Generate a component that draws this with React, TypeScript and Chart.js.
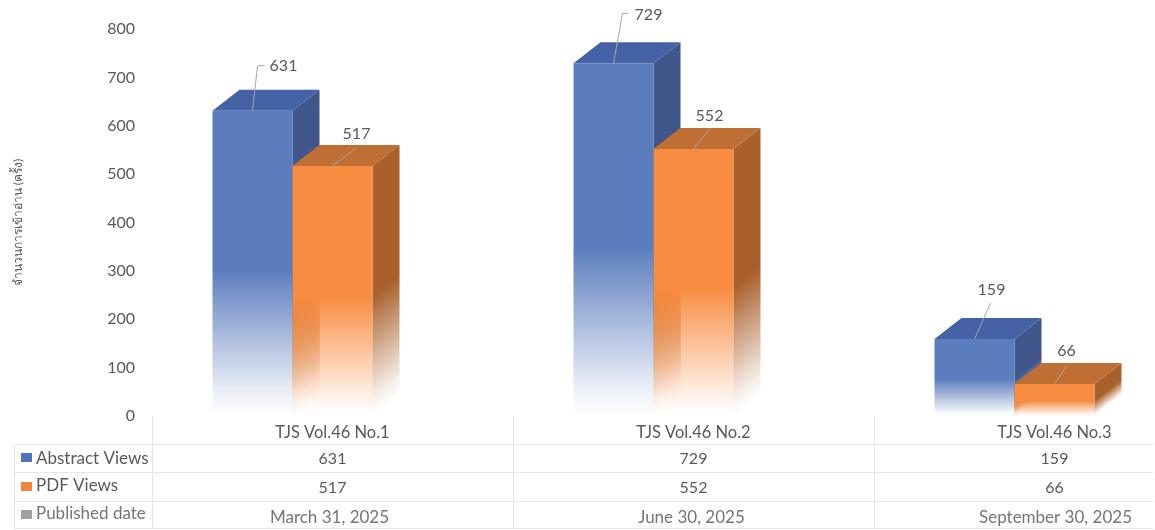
import React, { useEffect, useRef } from "react";
import { Chart, registerables } from "chart.js";

Chart.register(...registerables);

const categories = ["TJS Vol.46 No.1", "TJS Vol.46 No.2", "TJS Vol.46 No.3"];
const abstractViews = [631, 729, 159];
const pdfViews = [517, 552, 66];
const publishedDates = ["March 31, 2025", "June 30, 2025", "September 30, 2025"];
const seriesNames = ["Abstract Views", "PDF Views", "Published date"];
const yTitle = "จำนวนการเข้าอ่าน (ครั้ง)";

const FONT = 'Lato, "Noto Sans", sans-serif';
const TEXT = "#595959";
const GRID = "#e6e6e6";
const SHIFT = -40;
const DX = 27;
const DY = 21;

const palette = [
  { front: [91, 125, 190], side: [65, 86, 139], top: [68, 98, 165] },
  { front: [248, 140, 64], side: [169, 96, 43], top: [192, 111, 52] },
];
const swatches = ["#4f74ba", "#f3853a", "#a0a0a0"];

// offsets of each data label from its bar's top centre: [elbowX, elbowY, hookX, labelX, labelY]
const leaders = [
  [[5, -45, 12, 31, -45], [9, -50, 15, 35, -49], [16, -36, 16, 17, -49]],
  [[24, -18, 24, 24, -32], [17, -21, 17, 16, -33], [12, -18, 12, 12, -33]],
];

const rowLines = [444, 472, 501, 528];
const rowTextY = [459, 488, 518];
const rowNameY = [459, 486, 514];
const swatchY = [453, 482, 510];
const dateNudge = [-3, -2, 1];

const rgba = (c: number[], a: number) => `rgba(${c[0]},${c[1]},${c[2]},${a})`;

function fade(ctx: CanvasRenderingContext2D, top: number, base: number, c: number[]) {
  const g = ctx.createLinearGradient(0, top, 0, base);
  g.addColorStop(0, rgba(c, 1));
  g.addColorStop(0.52, rgba(c, 1));
  g.addColorStop(0.93, rgba(c, 0.1));
  g.addColorStop(1, rgba(c, 0));
  return g;
}

function whiteFade(ctx: CanvasRenderingContext2D, top: number, base: number, c: number[]) {
  const g = ctx.createLinearGradient(0, top, 0, base);
  g.addColorStop(0, rgba(c, 1));
  g.addColorStop(0.52, rgba(c, 1));
  g.addColorStop(0.93, "rgb(250,244,240)");
  g.addColorStop(1, "rgb(255,255,255)");
  return g;
}

function skewFace(ctx: CanvasRenderingContext2D, x: number, top: number, base: number, fill: (t: number, b: number) => CanvasGradient) {
  ctx.save();
  ctx.translate(x, 0);
  ctx.transform(1, -DY / DX, 0, 1, 0, 0);
  ctx.fillStyle = fill(top, base);
  ctx.fillRect(0, top, DX, base - top);
  ctx.restore();
}

const boxPlugin = {
  id: "box3d",
  beforeDatasetsDraw(chart: any) {
    const ctx = chart.ctx;
    ctx.save();
    ctx.translate(SHIFT, 0);
    [0, 1].forEach((d) => {
      const c = palette[d];
      chart.getDatasetMeta(d).data.forEach((bar: any) => {
        const left = bar.x - bar.width / 2;
        const right = bar.x + bar.width / 2;
        const top = bar.y;
        const base = bar.base;
        if (d === 1) {
          // inner wall seen through the fading front
          skewFace(ctx, left, top, base, (t, b) => whiteFade(ctx, t, b, c.side));
        }
        // right face
        skewFace(ctx, right, top, base, (t, b) => fade(ctx, t, b, c.side));
        // top face
        ctx.fillStyle = rgba(c.top, 1);
        ctx.beginPath();
        ctx.moveTo(left, top);
        ctx.lineTo(left + DX, top - DY);
        ctx.lineTo(right + DX, top - DY);
        ctx.lineTo(right, top);
        ctx.closePath();
        ctx.fill();
      });
    });
  },
  afterDatasetsDraw(chart: any) {
    const ctx = chart.ctx;
    [0, 1].forEach((d) => {
      chart.getDatasetMeta(d).data.forEach((bar: any, i: number) => {
        const [ex, ey, hx, lx, ly] = leaders[d][i];
        ctx.strokeStyle = "#a6a6a6";
        ctx.lineWidth = 1;
        ctx.beginPath();
        ctx.moveTo(bar.x, bar.y);
        ctx.lineTo(bar.x + ex, bar.y + ey);
        if (hx !== ex) ctx.lineTo(bar.x + hx, bar.y + ey);
        ctx.stroke();
        ctx.fillStyle = TEXT;
        ctx.font = `16px ${FONT}`;
        ctx.textAlign = "center";
        ctx.textBaseline = "middle";
        const values = d === 0 ? abstractViews : pdfViews;
        ctx.fillText(String(values[i]), bar.x + lx, bar.y + ly);
      });
    });
    ctx.restore();
  },
  afterDraw(chart: any) {
    const ctx = chart.ctx;
    const xs = chart.scales.x;
    const half = (xs.getPixelForTick(1) - xs.getPixelForTick(0)) / 2;
    const edges = categories.map((_, i) => xs.getPixelForTick(i) - half);
    const tableLeft = 14;
    const tableRight = 1153;
    ctx.save();
    ctx.strokeStyle = GRID;
    ctx.lineWidth = 1;
    ctx.beginPath();
    rowLines.forEach((y) => {
      ctx.moveTo(tableLeft, y + 0.5);
      ctx.lineTo(tableRight, y + 0.5);
    });
    edges.forEach((x) => {
      ctx.moveTo(Math.round(x) + 0.5, chart.chartArea.bottom);
      ctx.lineTo(Math.round(x) + 0.5, rowLines[3]);
    });
    ctx.moveTo(tableLeft + 0.5, rowLines[0]);
    ctx.lineTo(tableLeft + 0.5, rowLines[3]);
    ctx.stroke();

    ctx.textBaseline = "middle";
    seriesNames.forEach((name, r) => {
      ctx.fillStyle = swatches[r];
      ctx.fillRect(21, swatchY[r], 11, 9);
      ctx.fillStyle = r === 2 ? "#757575" : TEXT;
      ctx.textAlign = "left";
      ctx.font = `17px ${FONT}`;
      ctx.fillText(name, 36, rowNameY[r]);
    });
    ctx.textAlign = "center";
    categories.forEach((_, i) => {
      const x = xs.getPixelForTick(i);
      ctx.fillStyle = TEXT;
      ctx.font = `16px ${FONT}`;
      ctx.fillText(String(abstractViews[i]), x, rowTextY[0]);
      ctx.fillText(String(pdfViews[i]), x, rowTextY[1]);
      ctx.fillStyle = "#757575";
      ctx.font = `17px ${FONT}`;
      ctx.fillText(publishedDates[i], x + dateNudge[i], rowTextY[2]);
    });
    ctx.restore();
  },
};

export default function App() {
  const ref = useRef<HTMLCanvasElement>(null);
  useEffect(() => {
    const gradient = (d: number) => (context: any) => {
      const { chart, parsed } = context;
      const solid = rgba(palette[d].front, 1);
      if (!parsed || !chart.scales.y) return solid;
      const top = chart.scales.y.getPixelForValue(parsed.y);
      const base = chart.scales.y.getPixelForValue(0);
      if (!Number.isFinite(top) || !Number.isFinite(base)) return solid;
      return fade(chart.ctx, top, base, palette[d].front);
    };
    const chart = new Chart(ref.current!, {
      type: "bar",
      data: {
        labels: categories,
        datasets: [
          { label: seriesNames[0], data: abstractViews, backgroundColor: gradient(0), borderWidth: 0 },
          { label: seriesNames[1], data: pdfViews, backgroundColor: gradient(1), borderWidth: 0 },
        ],
      },
      plugins: [boxPlugin],
      options: {
        responsive: false,
        animation: false,
        clip: false,
        layout: { padding: { top: 29, right: 5, left: 0, bottom: 0 } },
        datasets: { bar: { barPercentage: 1, categoryPercentage: 160 / 361 } },
        plugins: { legend: { display: false }, tooltip: { enabled: false } },
        scales: {
          x: {
            grid: { display: false, drawTicks: false },
            border: { display: false },
            afterFit: (s: any) => { s.height = 114; },
            ticks: { color: TEXT, font: { family: FONT, size: 16.5 }, padding: 7, maxRotation: 0 },
          },
          y: {
            min: 0,
            max: 800,
            grid: { display: false, drawTicks: false },
            border: { display: false },
            afterFit: (s: any) => { s.width = 152; },
            ticks: { stepSize: 100, color: TEXT, font: { family: FONT, size: 16 }, padding: 17 },
            title: { display: true, text: yTitle, color: TEXT, font: { family: FONT, size: 12 }, padding: { top: 11, bottom: 0 } },
          },
        },
      } as any,
    });
    return () => chart.destroy();
  }, []);
  return (
    <div style={{ position: "absolute", left: 0, top: 0, width: 1155, height: 530, overflow: "hidden", background: "#fff" }}>
      <canvas ref={ref} width={1240} height={530} style={{ display: "block", filter: "blur(0.4px)" }} />
    </div>
  );
}
